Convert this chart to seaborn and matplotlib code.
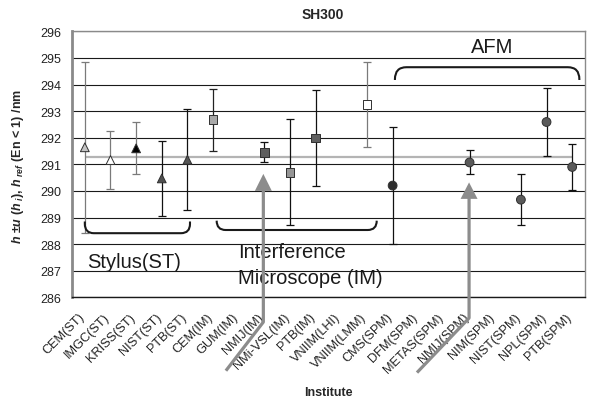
import numpy as np
import pandas as pd
import matplotlib.pyplot as plt
import seaborn as sns
from matplotlib.path import Path
from matplotlib.patches import PathPatch, Polygon

sns.set_style('white')
plt.rcParams['font.family'] = ['Liberation Sans', 'DejaVu Sans']
plt.rcParams['mathtext.fontset'] = 'custom'
plt.rcParams['mathtext.it'] = 'Liberation Sans:italic:bold'
plt.rcParams['mathtext.rm'] = 'Liberation Sans:bold'
plt.rcParams['mathtext.bf'] = 'Liberation Sans:bold'

# Data
institutes = ['CEM(ST)', 'IMGC(ST)', 'KRISS(ST)', 'NIST(ST)', 'PTB(ST)',
              'CEM(IM)', 'GUM(IM)', 'NMIJ(IM)', 'NMi-VSL(IM)', 'PTB(IM)',
              'VNIIM(LHI)', 'VNIIM(LMM)', 'CMS(SPM)', 'DFM(SPM)', 'METAS(SPM)',
              'NMIJ(SPM)', 'NIM(SPM)', 'NIST(SPM)', 'NPL(SPM)', 'PTB(SPM)']
methods = ['ST'] * 5 + ['IM'] * 7 + ['SPM'] * 8
values = [291.64, 291.16, 291.60, 290.47, 291.17,
          292.67, np.nan, 291.45, 290.70, 291.99,
          np.nan, 293.24, 290.20, np.nan, np.nan,
          291.07, np.nan, 289.67, 292.59, 290.90]
uncert = [3.22, 1.10, 0.98, 1.40, 1.90,
          1.16, np.nan, 0.38, 2.00, 1.80,
          np.nan, 1.59, 2.20, np.nan, np.nan,
          0.45, np.nan, 0.95, 1.26, 0.86]
ref_value = 291.28
yticks = list(range(286, 297))

# marker fill and error bar colours per institute
fills = ['#c4c4c4', '#ffffff', '#000000', '#505050', '#555555',
         '#a8a8a8', '#888888', '#5e5e5e', '#959595', '#606060',
         '#888888', '#ffffff', '#2e2e2e', '#888888', '#888888',
         '#5a5a5a', '#888888', '#5a5a5a', '#5a5a5a', '#5a5a5a']
ebar_colors = ['#7a7a7a', '#7a7a7a', '#7a7a7a', '#111111', '#111111',
               '#222222', '#222222', '#111111', '#111111', '#111111',
               '#222222', '#7a7a7a', '#111111', '#111111', '#111111',
               '#111111', '#111111', '#111111', '#111111', '#111111']

df = pd.DataFrame({'institute': institutes, 'method': methods,
                   'value': values, 'u': uncert})
df['pos'] = np.arange(len(df))

fig = plt.figure(figsize=(5.89, 4.02), dpi=100)
ax = fig.add_axes([72 / 589, 1 - 298.3 / 402, 513 / 589, 266 / 402])

# reference value line
ax.hlines(ref_value, 0, len(institutes) - 1, color='#b4b4b4', lw=1.6, zorder=2)

for _, row in df.dropna().iterrows():
    ax.errorbar(row['pos'], row['value'], yerr=row['u'], fmt='none',
                ecolor=ebar_colors[int(row['pos'])], elinewidth=0.9,
                capsize=3.2, capthick=0.9, zorder=3)

sns.scatterplot(data=df.dropna(), x='pos', y='value', hue='institute',
                palette=dict(zip(institutes, fills)), style='method',
                markers={'ST': '^', 'IM': 's', 'SPM': 'o'}, s=40,
                edgecolor='#303030', linewidth=0.7, legend=False, ax=ax, zorder=4)

ax.set_xlim(-0.5, len(institutes) - 0.5)
ax.set_ylim(286, 296)
ax.set_yticks(yticks)
ax.set_yticklabels([str(t) for t in yticks], fontsize=9, color='#222222')
# labels sit a little left of the category centre, like the original
ax.set_xticks(df['pos'] - 0.26)
ax.set_xticklabels(institutes, rotation=45, ha='right', rotation_mode='anchor',
                   fontsize=9.2, color='#222222')
ax.set_xticks(np.arange(-0.5, len(institutes)), minor=True)
ax.tick_params(axis='x', which='major', length=0, pad=9.5)
ax.tick_params(axis='x', which='minor', length=5, width=1, color='#222222', direction='out')
ax.tick_params(axis='y', length=5, width=1, color='#222222', direction='out', pad=3)
ax.set_xlabel('')
ax.set_ylabel('')
ax.grid(axis='y', color='#1a1a1a', lw=0.8, zorder=1)
ax.set_axisbelow(True)
for side in ['top', 'right']:
    ax.spines[side].set_color('#8a8a8a')
    ax.spines[side].set_linewidth(1)
ax.spines['left'].set_color('#8a8a8a')
ax.spines['left'].set_linewidth(2)
ax.spines['bottom'].set_color('#1a1a1a')
ax.spines['bottom'].set_linewidth(1)


def bracket(x0, x1, y_end, y_mid, r=0.35):
    s = 1 if y_end > y_mid else -1
    verts = [(x0, y_end), (x0, y_mid + s * r), (x0, y_mid), (x0 + r, y_mid),
             (x1 - r, y_mid), (x1, y_mid), (x1, y_mid + s * r), (x1, y_end)]
    codes = [Path.MOVETO, Path.LINETO, Path.CURVE3, Path.CURVE3,
             Path.LINETO, Path.CURVE3, Path.CURVE3, Path.LINETO]
    ax.add_patch(PathPatch(Path(verts, codes), fill=False, ec='#1a1a1a',
                           lw=1.5, zorder=5, clip_on=False))


bracket(0.0, 4.1, 288.85, 288.41)
bracket(5.14, 11.38, 288.88, 288.53)
bracket(12.09, 19.28, 294.17, 294.65, r=0.45)

ax.text(0.08, 287.13, 'Stylus(ST)', fontsize=14.5, color='#1a1a1a', zorder=6)
ax.text(5.98, 287.52, 'Interference', fontsize=14.5, color='#1a1a1a', zorder=6)
ax.text(5.98, 286.52, 'Microscope (IM)', fontsize=14.5, color='#1a1a1a', zorder=6)
ax.text(15.89, 295.23, 'AFM', fontsize=14.5, color='#1a1a1a', ha='center', zorder=6)


def arrow(x, tip, base, bottom, dx, dy):
    ax.plot([dx, x, x], [dy, bottom, base + 0.05], color='#8c8c8c', lw=2.3,
            solid_capstyle='butt', clip_on=False, zorder=7)
    ax.add_patch(Polygon([(x - 0.33, base), (x + 0.33, base), (x, tip)],
                         closed=True, fc='#8c8c8c', ec='none', clip_on=False, zorder=7))


arrow(6.96, 290.64, 290.0, 285.07, 5.50, 283.24)
arrow(14.98, 290.32, 289.70, 285.22, 12.95, 283.17)

fig.text(323 / 589, 1 - 15 / 402, 'SH300', fontsize=10, fontweight='bold',
         ha='center', va='center')
fig.text(328 / 589, 1 - 392.7 / 402, 'Institute', fontsize=9, fontweight='bold',
         ha='center', va='center')
fig.text(18 / 589, 1 - 166 / 402,
         r'$h$ $\pm u$ ($h_{\ i}$), $h_{\ ref}$ (En < 1) /nm',
         fontsize=9, fontweight='bold', rotation=90, ha='center', va='center')

plt.savefig('out.png', dpi=100, facecolor='white')
plt.close()
